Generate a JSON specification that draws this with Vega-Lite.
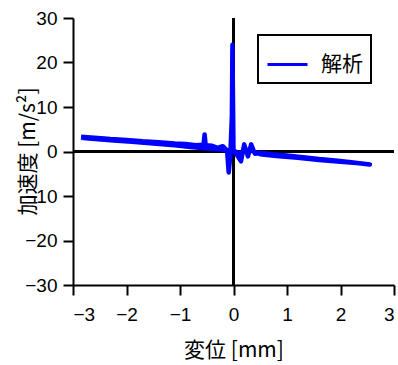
{
  "$schema": "https://vega.github.io/schema/vega-lite/v6.json",
  "width": 321,
  "height": 267,
  "autosize": {"type": "none"},
  "padding": {"left": 73, "top": 18, "right": 4, "bottom": 80},
  "background": "white",
  "config": {
    "view": {"stroke": null},
    "font": "Liberation Sans, Noto Sans CJK JP",
    "legend": {"strokeWidth": 2},
    "axis": {
      "domainColor": "black", "domainWidth": 2, "tickColor": "black", "tickWidth": 2, "tickSize": 10,
      "labelColor": "black", "labelFontSize": 19, "titleColor": "black", "titleFontSize": 21,
      "titleFontWeight": "normal", "grid": false, "labelFont": "Liberation Sans", "titleFont": "Noto Sans CJK JP, Liberation Sans",
      "labelOverlap": false, "format": "d"
    }
  },
  "data": {
    "values": [
      {"i": 0, "x": -2.85, "y": 3.3, "s": "解析"},
      {"i": 1, "x": -2.6, "y": 3.1, "s": "解析"},
      {"i": 2, "x": -2.3, "y": 2.8, "s": "解析"},
      {"i": 3, "x": -2.0, "y": 2.6, "s": "解析"},
      {"i": 4, "x": -1.7, "y": 2.3, "s": "解析"},
      {"i": 5, "x": -1.4, "y": 2.1, "s": "解析"},
      {"i": 6, "x": -1.1, "y": 1.8, "s": "解析"},
      {"i": 7, "x": -0.9, "y": 1.7, "s": "解析"},
      {"i": 8, "x": -0.7, "y": 1.4, "s": "解析"},
      {"i": 9, "x": -0.56, "y": 1.5, "s": "解析"},
      {"i": 10, "x": -0.54, "y": 3.8, "s": "解析"},
      {"i": 11, "x": -0.52, "y": 1.4, "s": "解析"},
      {"i": 12, "x": -0.4, "y": 1.3, "s": "解析"},
      {"i": 13, "x": -0.3, "y": 0.8, "s": "解析"},
      {"i": 14, "x": -0.2, "y": 1.2, "s": "解析"},
      {"i": 15, "x": -0.12, "y": 0.2, "s": "解析"},
      {"i": 16, "x": -0.09, "y": -4.7, "s": "解析"},
      {"i": 17, "x": -0.06, "y": -1.0, "s": "解析"},
      {"i": 18, "x": -0.03, "y": 8, "s": "解析"},
      {"i": 19, "x": -0.02, "y": 24, "s": "解析"},
      {"i": 20, "x": -0.01, "y": 12, "s": "解析"},
      {"i": 21, "x": 0.0, "y": 0, "s": "解析"},
      {"i": 22, "x": 0.06, "y": -0.7, "s": "解析"},
      {"i": 23, "x": 0.14, "y": -2.2, "s": "解析"},
      {"i": 24, "x": 0.2, "y": 1.6, "s": "解析"},
      {"i": 25, "x": 0.27, "y": -1.1, "s": "解析"},
      {"i": 26, "x": 0.33, "y": 1.6, "s": "解析"},
      {"i": 27, "x": 0.4, "y": -0.5, "s": "解析"},
      {"i": 28, "x": 0.5, "y": -0.3, "s": "解析"},
      {"i": 29, "x": 0.7, "y": -0.6, "s": "解析"},
      {"i": 30, "x": 1.0, "y": -0.9, "s": "解析"},
      {"i": 31, "x": 1.3, "y": -1.3, "s": "解析"},
      {"i": 32, "x": 1.6, "y": -1.7, "s": "解析"},
      {"i": 33, "x": 1.9, "y": -2.0, "s": "解析"},
      {"i": 34, "x": 2.2, "y": -2.4, "s": "解析"},
      {"i": 35, "x": 2.55, "y": -2.9, "s": "解析"},
      {"i": 36, "x": 2.3, "y": -2.6, "s": "解析"},
      {"i": 37, "x": 2.0, "y": -2.3, "s": "解析"},
      {"i": 38, "x": 1.6, "y": -1.9, "s": "解析"},
      {"i": 39, "x": 1.2, "y": -1.4, "s": "解析"},
      {"i": 40, "x": 0.8, "y": -1.0, "s": "解析"},
      {"i": 41, "x": 0.5, "y": -0.6, "s": "解析"},
      {"i": 42, "x": 0.3, "y": 0.3, "s": "解析"},
      {"i": 43, "x": 0.1, "y": -0.4, "s": "解析"},
      {"i": 44, "x": 0.0, "y": 0.2, "s": "解析"},
      {"i": 45, "x": -0.2, "y": 0.4, "s": "解析"},
      {"i": 46, "x": -0.5, "y": 0.7, "s": "解析"},
      {"i": 47, "x": -0.8, "y": 1.0, "s": "解析"},
      {"i": 48, "x": -1.1, "y": 1.4, "s": "解析"},
      {"i": 49, "x": -1.5, "y": 1.8, "s": "解析"},
      {"i": 50, "x": -1.9, "y": 2.2, "s": "解析"},
      {"i": 51, "x": -2.3, "y": 2.5, "s": "解析"},
      {"i": 52, "x": -2.7, "y": 2.9, "s": "解析"},
      {"i": 53, "x": -2.85, "y": 3.1, "s": "解析"}
    ]
  },
  "layer": [
    {
      "mark": {"type": "rule", "color": "black", "strokeWidth": 2},
      "encoding": {"x": {"datum": 0, "type": "quantitative", "scale": {"domain": [-3, 3], "nice": false}}}
    },
    {
      "mark": {"type": "rule", "color": "black", "strokeWidth": 2},
      "encoding": {"y": {"datum": 0, "type": "quantitative", "scale": {"domain": [-30, 30], "nice": false}}}
    },
    {
      "mark": {"type": "line", "strokeWidth": 4.5, "strokeJoin": "round"},
      "encoding": {
        "x": {"field": "x", "type": "quantitative", "scale": {"domain": [-3, 3], "nice": false},
          "axis": {"values": [-3, -2, -1, 0, 1, 2, 3], "title": "変位 [mm]", "labelPadding": 10, "titlePadding": 15}},
        "y": {"field": "y", "type": "quantitative", "scale": {"domain": [-30, 30], "nice": false},
          "axis": {"values": [-30, -20, -10, 0, 10, 20, 30], "title": "加速度 [m/s²]", "labelPadding": 6, "titleX": -35, "titleY": 133}},
        "order": {"field": "i", "type": "quantitative"},
        "color": {"field": "s", "type": "nominal", "scale": {"range": ["#0000ff"]},
          "legend": {"title": null, "orient": "none", "legendX": 185, "legendY": 17, "symbolType": "stroke", "symbolSize": 1600,
            "symbolStrokeWidth": 3, "labelFontSize": 21, "labelFont": "Noto Sans CJK JP", "labelColor": "black", "labelOffset": 12,
            "strokeColor": "black", "fillColor": "white", "padding": 8, "labelLimit": 200}}
      }
    }
  ]
}
